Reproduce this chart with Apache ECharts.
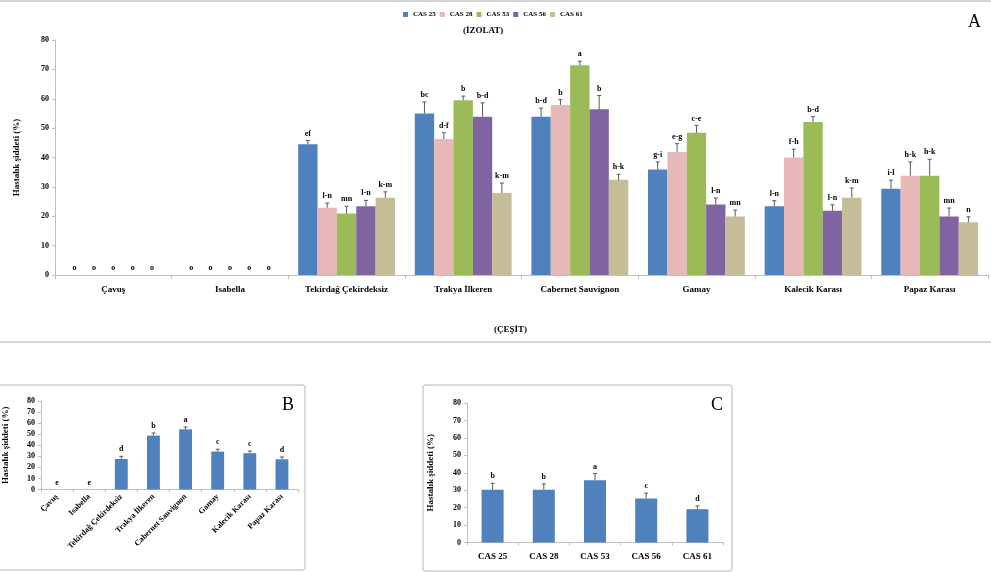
<!DOCTYPE html>
<html>
<head>
<meta charset="utf-8">
<script src="https://cdn.jsdelivr.net/npm/echarts@6/dist/echarts.min.js"></script>
<style>html,body{margin:0;padding:0;background:#fff;}#c{width:991px;height:572px;}</style>
</head>
<body>
<div id="c"></div>
<script>
const categories = ['Çavuş','Isabella','Tekirdağ Çekirdeksiz','Trakya İlkeren','Cabernet Sauvignon','Gamay','Kalecik Karası','Papaz Karası'];
const isolates = ['CAS 25','CAS 28','CAS 53','CAS 56','CAS 61'];

const cas25 = [0,0,44.5,55.0,53.9,35.9,23.4,29.4];
const err25 = [0,0,1.3,3.9,2.9,2.6,1.9,2.9];
const let25 = ['o','o','ef','bc','b-d','g-i','l-n','i-l'];
const cas28 = [0,0,22.9,46.3,57.9,41.9,40.0,33.8];
const err28 = [0,0,1.6,2.1,1.8,2.8,2.8,4.7];
const let28 = ['o','o','l-n','d-f','b','e-g','f-h','h-k'];
const cas53 = [0,0,20.9,59.5,71.4,48.4,52.1,33.8];
const err53 = [0,0,2.5,1.4,1.4,2.5,1.8,5.6];
const let53 = ['o','o','mn','b','a','c-e','b-d','h-k'];
const cas56 = [0,0,23.4,53.9,56.4,24.0,21.9,19.9];
const err56 = [0,0,2.0,4.7,4.7,2.2,2.0,2.9];
const let56 = ['o','o','l-n','b-d','b','l-n','l-n','mn'];
const cas61 = [0,0,26.3,27.9,32.4,19.9,26.3,18.0];
const err61 = [0,0,2.0,3.4,1.9,2.2,3.3,1.8];
const let61 = ['o','o','k-m','k-m','h-k','mn','k-m','n'];

const cultivarMean = [0,0,27.6,48.7,54.4,34.3,32.8,27.3];
const cultivarErr = [0,0,2.4,2.4,2.1,2.1,2.0,2.1];
const cultivarLetters = ['e','e','d','b','a','c','c','d'];

const isolateMean = [30.3,30.3,35.7,25.3,19.1];
const isolateErr = [3.6,3.3,3.9,3.0,1.9];
const isolateLetters = ['b','b','a','c','d'];

const yTicks = [0,10,20,30,40,50,60,70,80];
const yName = 'Hastalık şiddeti (%)';

const FONT = "'Liberation Serif', 'Times New Roman', serif";
const colors = ['#4F81BD','#E6B9B8','#9BBB59','#8064A2','#C4BD97'];
const axisGray = '#bfbfbf';

function errSeries(idx, n, gap, gi, vals, errs, labels) {
  return {
    type: 'custom', xAxisIndex: gi, yAxisIndex: gi, z: 5, silent: true,
    data: vals.map((v, i) => [i, v, errs[i]]),
    encode: { x: 0, y: 1 },
    renderItem: function (params, api) {
      const ci = api.value(0), v = api.value(1), e = api.value(2);
      const base = api.coord([ci, v]);
      const top = api.coord([ci, v + e]);
      const catW = api.size([1, 0])[0];
      const band = catW * (1 - gap);
      const bw = band / n;
      const x = base[0] - band / 2 + bw * (idx + 0.5);
      const ch = [];
      if (e > 0) {
        ch.push({ type: 'line', shape: { x1: x, y1: base[1], x2: x, y2: top[1] }, style: { stroke: '#595959', lineWidth: 1 } });
        ch.push({ type: 'line', shape: { x1: x - 2, y1: top[1], x2: x + 2, y2: top[1] }, style: { stroke: '#595959', lineWidth: 1 } });
      }
      ch.push({ type: 'text', style: { text: labels[params.dataIndex], x: x, y: top[1] - 3, textAlign: 'center', textVerticalAlign: 'bottom', font: 'bold 8px ' + FONT, fill: '#000' } });
      return { type: 'group', children: ch };
    }
  };
}

const yAxisBase = (gi, nameGap) => ({
  type: 'value', gridIndex: gi, min: yTicks[0], max: yTicks[yTicks.length - 1], interval: 10,
  name: yName, nameLocation: 'middle', nameRotate: 90, nameGap: nameGap,
  nameTextStyle: { fontFamily: FONT, fontWeight: 'bold', fontSize: 9, color: '#000' },
  axisLine: { show: true, lineStyle: { color: axisGray } },
  axisTick: { show: true, length: 3, lineStyle: { color: axisGray } },
  splitLine: { show: false },
  axisLabel: { fontFamily: FONT, fontWeight: 'bold', fontSize: 8, color: '#000', margin: 6 }
});

const seriesVals = [cas25, cas28, cas53, cas56, cas61];
const seriesErrs = [err25, err28, err53, err56, err61];
const seriesLets = [let25, let28, let53, let56, let61];
const gapA = 0.17;

const series = [];
isolates.forEach((name, i) => {
  series.push({ type: 'bar', name: name, xAxisIndex: 0, yAxisIndex: 0, data: seriesVals[i], barGap: '0%', barCategoryGap: (gapA * 100) + '%', itemStyle: { color: colors[i] } });
});
isolates.forEach((name, i) => {
  series.push(errSeries(i, 5, gapA, 0, seriesVals[i], seriesErrs[i], seriesLets[i]));
});
series.push({ type: 'bar', xAxisIndex: 1, yAxisIndex: 1, data: cultivarMean, barCategoryGap: '60%', itemStyle: { color: colors[0] } });
series.push(errSeries(0, 1, 0.60, 1, cultivarMean, cultivarErr, cultivarLetters));
series.push({ type: 'bar', xAxisIndex: 2, yAxisIndex: 2, data: isolateMean, barCategoryGap: '57%', itemStyle: { color: colors[0] } });
series.push(errSeries(0, 1, 0.57, 2, isolateMean, isolateErr, isolateLetters));

const option = {
  animation: false,
  backgroundColor: '#fff',
  legend: {
    data: isolates, left: 398, top: 6, icon: 'rect', itemWidth: 5, itemHeight: 5, itemGap: 4,
    textStyle: { fontFamily: FONT, fontWeight: 'bold', fontSize: 7, color: '#000' }
  },
  grid: [
    { left: 55, top: 40, width: 933, height: 235 },
    { left: 40, top: 401, width: 258, height: 88.5 },
    { left: 467, top: 403, width: 256, height: 139.5 }
  ],
  xAxis: [
    { type: 'category', gridIndex: 0, data: categories,
      axisLine: { lineStyle: { color: axisGray } },
      axisTick: { show: true, length: 4, lineStyle: { color: axisGray } },
      axisLabel: { fontFamily: FONT, fontWeight: 'bold', fontSize: 9, color: '#000', margin: 10 } },
    { type: 'category', gridIndex: 1, data: categories,
      axisLine: { lineStyle: { color: axisGray } },
      axisTick: { show: true, length: 3, lineStyle: { color: axisGray } },
      axisLabel: { fontFamily: FONT, fontWeight: 'bold', fontSize: 8, color: '#000', rotate: 45, margin: 6, interval: 0 } },
    { type: 'category', gridIndex: 2, data: isolates,
      axisLine: { lineStyle: { color: axisGray } },
      axisTick: { show: true, length: 3, lineStyle: { color: axisGray } },
      axisLabel: { fontFamily: FONT, fontWeight: 'bold', fontSize: 9, color: '#000', margin: 10 } }
  ],
  yAxis: [ yAxisBase(0, 34), yAxisBase(1, 31), yAxisBase(2, 32) ],
  graphic: [
    { type: 'line', shape: { x1: 0, y1: 1, x2: 991, y2: 1 }, style: { stroke: '#d4d4d4', lineWidth: 2 } },
    { type: 'line', shape: { x1: 0, y1: 342, x2: 991, y2: 342 }, style: { stroke: '#d4d4d4', lineWidth: 2 } },
    { type: 'text', left: 463, top: 26, style: { text: '(İZOLAT)', font: 'bold 9px ' + FONT, fill: '#000' } },
    { type: 'text', left: 494, top: 325, style: { text: '(ÇEŞİT)', font: 'bold 9px ' + FONT, fill: '#000' } },
    { type: 'text', left: 968, top: 13, style: { text: 'A', font: '18px ' + FONT, fill: '#000' } },
    { type: 'rect', shape: { x: -5, y: 385, width: 310, height: 185, r: 3 }, style: { fill: 'none', stroke: '#d0d0d0', lineWidth: 1.5 } },
    { type: 'rect', shape: { x: 423, y: 385, width: 309, height: 186, r: 3 }, style: { fill: 'none', stroke: '#d0d0d0', lineWidth: 1.5 } },
    { type: 'text', left: 282, top: 396, style: { text: 'B', font: '18px ' + FONT, fill: '#000' } },
    { type: 'text', left: 711, top: 396, style: { text: 'C', font: '18px ' + FONT, fill: '#000' } }
  ],
  series: series
};
const chart = echarts.init(document.getElementById('c'), null, { renderer: 'canvas' });
chart.setOption(option);
</script>
</body>
</html>
